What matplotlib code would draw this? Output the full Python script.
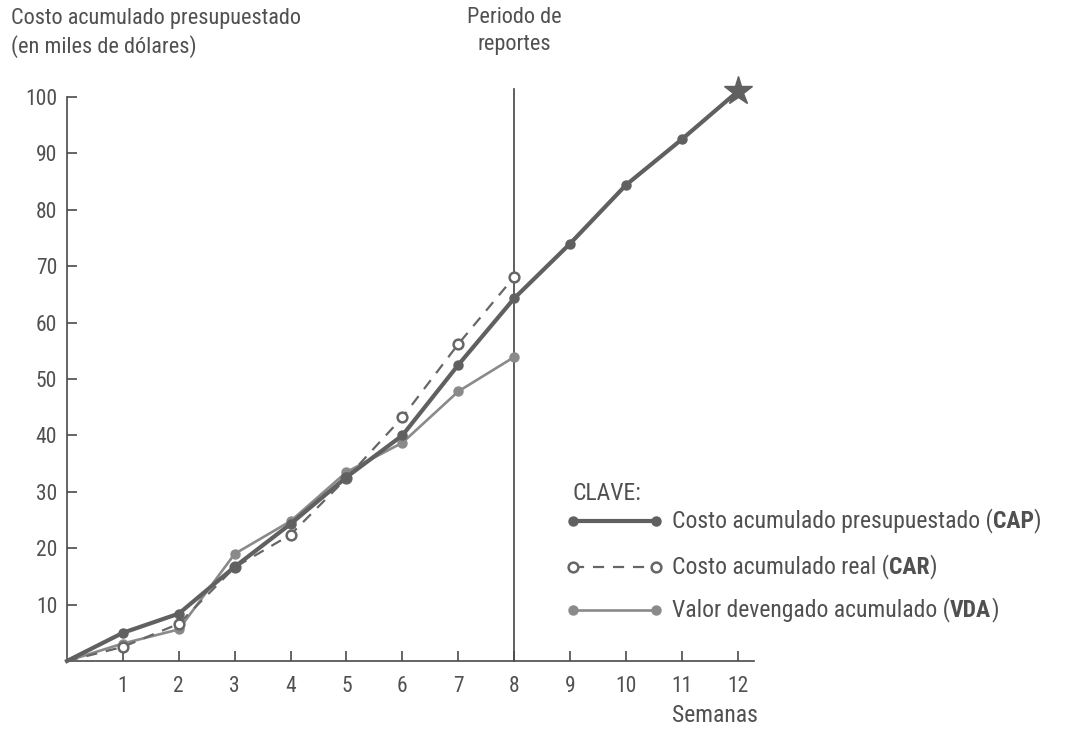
import matplotlib
matplotlib.use("Agg")
import matplotlib.pyplot as plt
from matplotlib import font_manager
from matplotlib.lines import Line2D

# weeks and cumulative values (miles de dolares)
semanas = [0, 1, 2, 3, 4, 5, 6, 7, 8, 9, 10, 11, 12]
cap = [0, 5.0, 8.4, 16.7, 24.3, 32.6, 40.0, 52.5, 64.3, 74.0, 84.4, 92.5, 101.0]
semanas_real = [0, 1, 2, 3, 4, 5, 6, 7, 8]
car = [0, 2.5, 6.6, 16.6, 22.4, 32.4, 43.2, 56.2, 68.1]
vda = [0, 3.1, 5.6, 19.0, 24.8, 33.5, 38.7, 47.8, 53.9]
periodo_reporte = 8

y_ticks = [10, 20, 30, 40, 50, 60, 70, 80, 90, 100]
x_ticks = [1, 2, 3, 4, 5, 6, 7, 8, 9, 10, 11, 12]

## pick a narrow font if there is one
names = {f.name for f in font_manager.fontManager.ttflist}
font = 'Roboto'
for cand in ['Roboto Condensed', 'Liberation Sans Narrow']:
    if cand in names:
        font = cand
        break
narrow = font != 'Roboto'
fs = 17 if narrow else 15
title_fs = 16 if narrow else 14
tick_fs = 15.5 if narrow else 13.5

plt.rcParams['font.family'] = font
txt_col = '#505050'
cap_col = '#606060'
car_col = '#666666'
vda_col = '#8a8a8a'
dash = (0, (5, 4))

W, H = 1066, 730
fig = plt.figure(figsize=(W / 100, H / 100), dpi=100)

def fx(px):
    return px / W

def fy(py):
    return 1 - py / H

ax = fig.add_axes([fx(67), fy(661), fx(754 - 67), fy(97) - fy(661)])
ax.set_xlim(0, 12.29)
ax.set_ylim(0, 100)

for s in ['top', 'right']:
    ax.spines[s].set_visible(False)
for s in ['left', 'bottom']:
    ax.spines[s].set_color('#4a4a4a')
    ax.spines[s].set_linewidth(1.2)

ax.set_yticks(y_ticks)
ax.set_xticks(x_ticks)
ax.tick_params(axis='both', direction='in', length=7, width=1.2, color='#4a4a4a',
               labelsize=tick_fs, labelcolor=txt_col)
ax.tick_params(axis='y', pad=7)
ax.tick_params(axis='x', pad=11)

# reporting period line
ax.plot([periodo_reporte, periodo_reporte], [0, 101.4], color='#444444', lw=1.2,
        clip_on=False, zorder=1)

# VDA
ax.plot(semanas_real, vda, color=vda_col, lw=1.9, marker='o', ms=6.5,
        markevery=list(range(1, len(vda))), zorder=3, clip_on=False)
# CAR
ax.plot(semanas_real, car, color=car_col, lw=1.6, ls=dash, marker='o', ms=7,
        mfc='white', mec=car_col, mew=1.8, markevery=list(range(1, len(car))),
        zorder=4, clip_on=False)
# CAP
ax.plot(semanas, cap, color=cap_col, lw=3.0, marker='o', ms=6.5,
        markevery=list(range(1, len(cap) - 1)), zorder=5, clip_on=False)
ax.plot(semanas[-1], cap[-1], marker='*', ms=21, color=cap_col, zorder=6, clip_on=False)

## texts
fig.text(fx(11), fy(33), 'Costo acumulado presupuestado\n(en miles de dólares)',
         ha='left', va='center', fontsize=title_fs, color=txt_col, linespacing=1.35)
fig.text(fx(514), fy(31), 'Periodo de\nreportes', ha='center', va='center',
         fontsize=title_fs, color=txt_col, linespacing=1.35)
fig.text(fx(758), fy(715), 'Semanas', ha='right', va='center', fontsize=fs, color=txt_col)

## key
fig.text(fx(573), fy(493), 'CLAVE:', ha='left', va='center', fontsize=fs, color=txt_col)

key_rows = [
    (521, 'Costo acumulado presupuestado (', 'CAP',
     dict(color=cap_col, lw=3.0, marker='o', ms=6.5)),
    (567, 'Costo acumulado real (', 'CAR',
     dict(color=car_col, lw=1.6, ls=dash, marker='o', ms=7, mfc='white',
          mec=car_col, mew=1.8)),
    (610, 'Valor devengado acumulado (', 'VDA',
     dict(color=vda_col, lw=1.9, marker='o', ms=6.5)),
]
for py, t1, tb, style in key_rows:
    fig.add_artist(Line2D([fx(573), fx(656)], [fy(py), fy(py)],
                          transform=fig.transFigure, **style))
    a = fig.text(fx(672), fy(py), t1, ha='left', va='center', fontsize=fs, color=txt_col)
    b = ax.annotate(tb, xy=(1, 0), xycoords=a, ha='left', va='bottom', fontsize=fs,
                    color=txt_col, fontweight='bold', annotation_clip=False)
    ax.annotate(')', xy=(1, 0), xycoords=b, ha='left', va='bottom', fontsize=fs,
                color=txt_col, annotation_clip=False)

fig.savefig('out.png', dpi=100)
